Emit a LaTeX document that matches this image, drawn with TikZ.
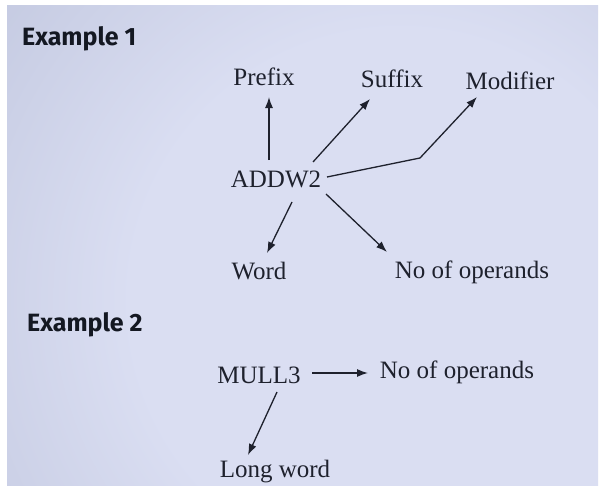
\documentclass[tikz,border=0pt]{standalone}
\usepackage{fontspec}
\setmainfont{Liberation Serif}
\newfontfamily\exfont{Fira Sans}
\usetikzlibrary{arrows.meta,calc}
\definecolor{ink}{RGB}{30,33,45}
\definecolor{exink}{RGB}{20,24,34}
\definecolor{bgin}{RGB}{218,222,242}
\definecolor{bgmid}{RGB}{190,196,220}
\definecolor{bgout}{RGB}{125,134,152}
\pgfdeclareradialshading{vig}{\pgfpoint{0bp}{0bp}}{color(0bp)=(bgin); color(12bp)=(bgin); color(26bp)=(bgmid); color(40bp)=(bgout); color(50bp)=(bgout)}
\tikzset{
  lbl/.style={anchor=base, inner sep=0pt, text=ink, font=\fontsize{25}{29}\selectfont},
  exlbl/.style={anchor=base west, inner sep=0pt, text=exink, font=\exfont\bfseries\fontsize{25}{29}\selectfont},
  arr/.style={draw=ink, line width=1.3pt, -{Latex[length=11pt,width=8pt]}},
}
\begin{document}
\begin{tikzpicture}[x=1pt,y=-1pt]
\useasboundingbox (0,0) rectangle (600,487);
\fill[white] (0,0) rectangle (600,487);
\begin{scope}
\clip (7,6) rectangle (598,485);
\shade[shading=vig] (400,300) circle (560);
\end{scope}
% Example 1
\node[exlbl] (ex1) at (22,46) {Example 1};
\node[lbl] (prefix) at (264,85) {Prefix};
\node[lbl] (suffix) at (392,88) {Suffix};
\node[lbl] (modifier) at (510,90) {Modifier};
\node[lbl] (addw) at (276,187) {ADDW2};
\node[lbl] (word) at (259,279) {Word};
\node[lbl] (noop) at (472,278) {No of operands};
\coordinate (bend) at (420,158);
\draw[arr] ($(addw.base)+(-7,-27)$) -- ($(prefix.base)+(5,12)$);
\draw[arr] ($(addw.base)+(37,-25)$) -- ($(suffix.base)+(-22,11)$);
\draw[arr] ($(addw.base)+(51,-10)$) -- (bend) -- ($(modifier.base)+(-33,7)$);
\draw[arr] ($(addw.base)+(16,15)$) -- ($(word.base)+(8,-26)$);
\draw[arr] ($(addw.base)+(50,7)$) -- ($(noop.base)+(-85,-26)$);
% Example 2
\node[exlbl] (ex2) at (27,331) {Example 2};
\node[lbl] (mull) at (259,383) {MULL3};
\node[lbl] (noop2) at (457,378) {No of operands};
\node[lbl] (long) at (275,477) {Long word};
\draw[arr] ($(mull.base)+(53,-10)$) -- ($(noop2.base)+(-89,-5)$);
\draw[arr] ($(mull.base)+(18,9)$) -- ($(long.base)+(-27,-22)$);
\end{tikzpicture}
\end{document}
